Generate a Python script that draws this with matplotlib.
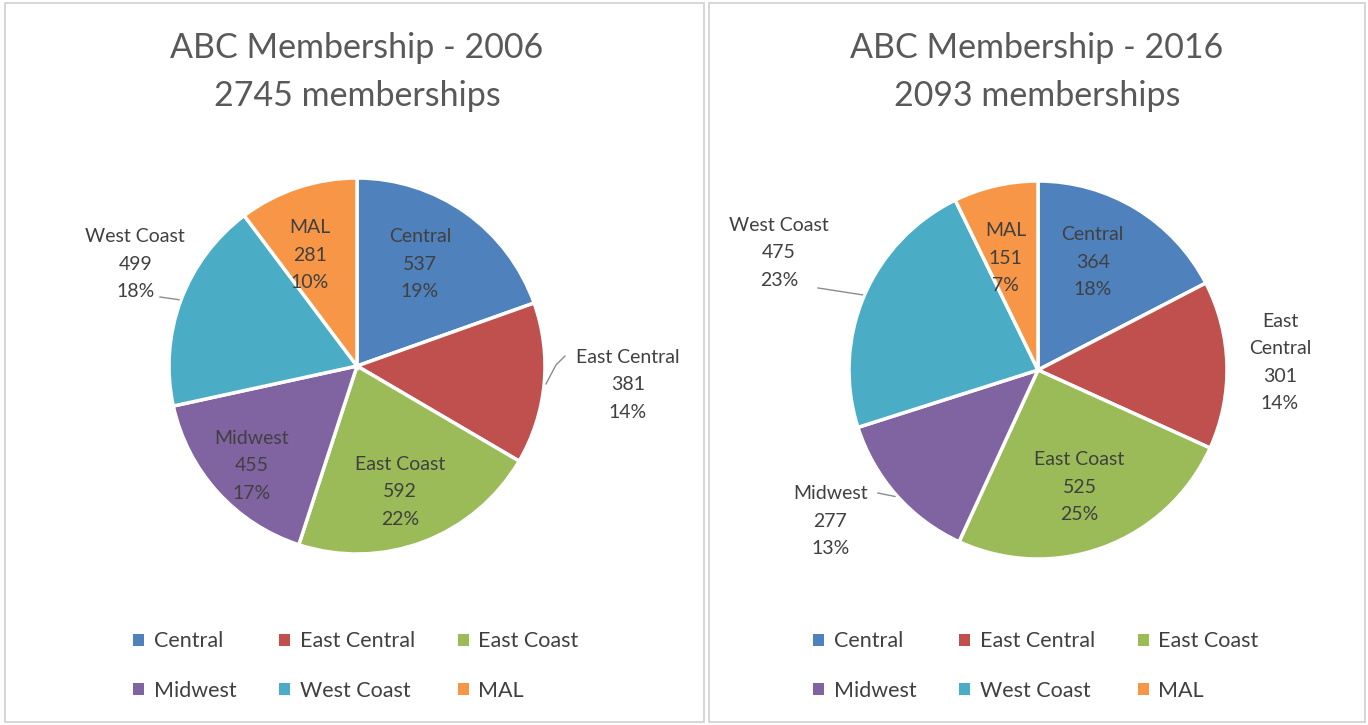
import matplotlib.pyplot as plt
from matplotlib.patches import Rectangle, Patch
import numpy as np

plt.rcParams['font.family'] = ['Lato', 'DejaVu Sans']

regions = ["Central", "East Central", "East Coast", "Midwest", "West Coast", "MAL"]
colors = ["#4F81BD", "#C0504D", "#9BBB59", "#8064A2", "#4BACC6", "#F79646"]

members_2006 = [537, 381, 592, 455, 499, 281]
pct_2006 = [19, 14, 22, 17, 18, 10]
members_2016 = [364, 301, 525, 277, 475, 151]
pct_2016 = [18, 14, 25, 13, 23, 7]

names_2016 = ["Central", "East\nCentral", "East Coast", "Midwest", "West Coast", "MAL"]

# label offsets in pie-radius units
pos_2006 = [(0.335, 0.54), (1.44, -0.10), (0.23, -0.67), (-0.56, -0.53), (-1.18, 0.54), (-0.25, 0.59)]
pos_2016 = [(0.29, 0.57), (1.28, 0.04), (0.22, -0.62), (-1.10, -0.80), (-1.37, 0.62), (-0.17, 0.59)]
# leader line bend points (pie-radius units) for outside labels, None = no leader
lead_2006 = [None, [(1.058, 0.005), (1.106, 0.053)], None, None, [(-1.048, 0.367)], None]
lead_2016 = [None, None, None, [(-0.847, -0.651)], [(-1.164, 0.434)], None]

W, H = 1368, 725
fig = plt.figure(figsize=(W / 100, H / 100), dpi=100)

# panel borders
for x0, x1 in [(5, 704), (709, 1365)]:
    fig.patches.append(Rectangle((x0 / W, 3 / H), (x1 - x0) / W, (722 - 3) / H,
                                 transform=fig.transFigure, fill=False,
                                 edgecolor="#d0d0d0", linewidth=1.2))


def draw_pie(cx, cy, r, values, pcts, names, pos, lead, title, panel_cx):
    ax = fig.add_axes([(cx - r) / W, (H - cy - r) / H, 2 * r / W, 2 * r / H])
    wedges, _ = ax.pie(values, colors=colors, startangle=90, counterclock=False,
                       wedgeprops=dict(edgecolor="white", linewidth=2.5))
    ax.set_xlim(-1, 1)
    ax.set_ylim(-1, 1)
    ax.set_aspect("equal")
    ax.axis("off")
    for w, n, v, p, (tx, ty), ld in zip(wedges, names, values, pcts, pos, lead):
        ax.text(tx, ty, f"{n}\n{v}\n{p}%", ha="center", va="center", fontsize=14,
                color="#404040", linespacing=1.75, clip_on=False)
        if ld:
            mid = np.deg2rad((w.theta1 + w.theta2) / 2)
            pts = [(np.cos(mid) * 1.01, np.sin(mid) * 1.01)] + ld
            xs, ys = zip(*pts)
            ax.plot(xs, ys, color="#8c8c8c", lw=1, clip_on=False)
    fig.text(panel_cx / W, 1 - 72 / H, title, ha="center", va="center",
             fontsize=24.5, color="#595959", linespacing=1.6)
    handles = [Patch(facecolor=c, label=l) for c, l in zip(colors, regions)]
    order = [0, 3, 1, 4, 2, 5]
    fig.legend([handles[i] for i in order], [regions[i] for i in order],
               loc="center", bbox_to_anchor=((panel_cx - 1) / W, 1 - 666 / H),
               ncol=3, frameon=False, fontsize=15.5, handlelength=0.5,
               handleheight=0.5, handletextpad=0.45, columnspacing=2.0,
               labelcolor="#404040", labelspacing=1.35)


draw_pie(357, 366, 188, members_2006, pct_2006, regions, pos_2006, lead_2006,
         "ABC Membership - 2006\n2745 memberships", 357)
draw_pie(1038, 370, 189, members_2016, pct_2016, names_2016, pos_2016, lead_2016,
         "ABC Membership - 2016\n2093 memberships", 1037)

fig.savefig("out.png", dpi=100)
